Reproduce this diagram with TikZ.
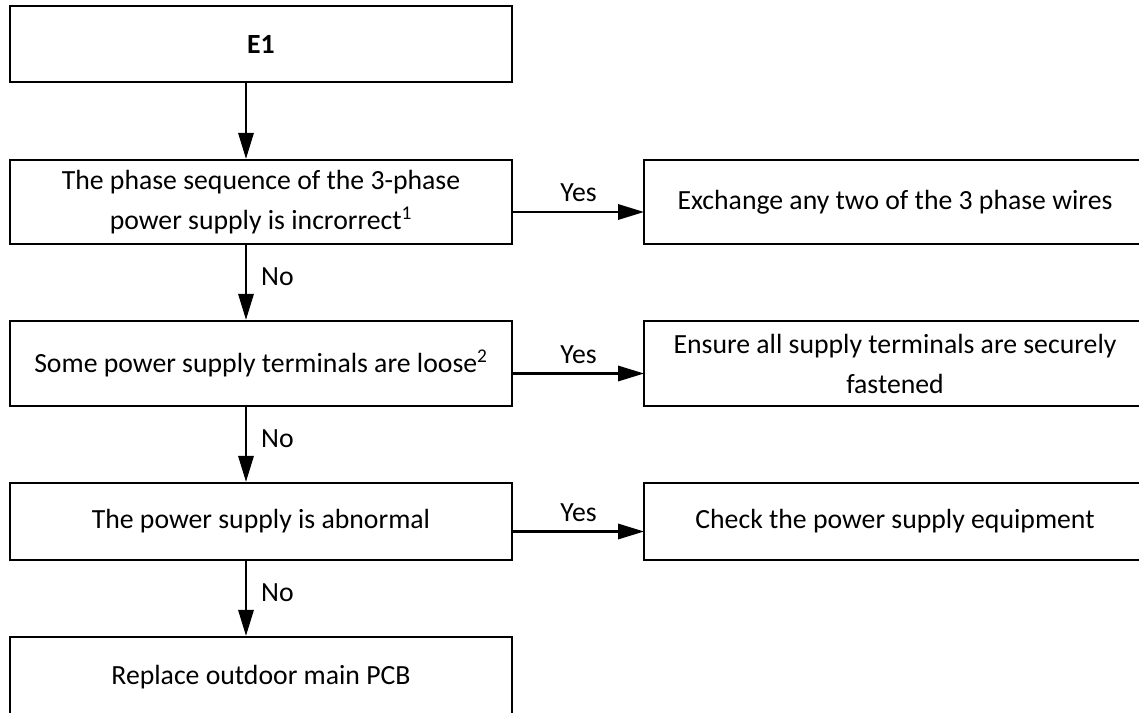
\documentclass[tikz,border=0pt]{standalone}
\usepackage{fontspec}
\setmainfont{Carlito}
\usetikzlibrary{arrows.meta}
\begin{document}
\begin{tikzpicture}[x=0.75pt,y=-0.75pt,
  txt/.style={font=\fontsize{20.8}{30}\selectfont},
  box/.style={draw, line width=1.7pt, minimum width=376.5pt, inner sep=0pt, align=center, txt},
  rbox/.style={minimum width=405pt, inner sep=0pt, anchor=west},
  open/.style={line width=1.7pt, line join=miter},
  rtext/.style={align=center, inner sep=0pt, txt},
  arr/.style={line width=1.7pt, -{Triangle[length=19.5pt,width=11.5pt]}},
  lbl/.style={txt, inner sep=0pt}]
\useasboundingbox (0,0) rectangle (1139,713);
\clip (0,0) rectangle (1139,713);
\coordinate (vx) at (246,0);
% left column
\node[box, minimum height=57pt]    (e1) at (261,44)    {\textbf{E1}};
\node[box, minimum height=63pt]    (b2) at (261,202)   {The phase sequence of the 3-phase\\power supply is incrorrect\textsuperscript{1}};
\node[box, minimum height=63.75pt] (b3) at (261,363.5) {Some power supply terminals are loose\textsuperscript{2}};
\node[box, minimum height=57.75pt] (b4) at (261,521.5) {The power supply is abnormal};
\node[box, minimum height=60pt]    (b5) at (261,677)   {Replace outdoor main PCB};
% right column (boxes run past the right edge of the picture)
\node[rbox, minimum height=63pt]    (r2) at (644,202)   {};
\node[rbox, minimum height=63.75pt] (r3) at (644,363.5) {};
\node[rbox, minimum height=57.75pt] (r4) at (644,521.5) {};
\draw[open] (r2.north east) -- (r2.north west) -- (r2.south west) -- (r2.south east);
\draw[open] (r3.north east) -- (r3.north west) -- (r3.south west) -- (r3.south east);
\draw[open] (r4.north east) -- (r4.north west) -- (r4.south west) -- (r4.south east);
\node[rtext] (r2t) at (895,202)   {Exchange any two of the 3 phase wires};
\node[rtext] (r3t) at (895,363.5) {Ensure all supply terminals are securely\\fastened};
\node[rtext] (r4t) at (895,521.5) {Check the power supply equipment};
% vertical arrows
\draw[arr] (e1.south -| vx) -- (b2.north -| vx);
\draw[arr] (b2.south -| vx) -- node[lbl, midway, anchor=base west, xshift=10.5pt, yshift=-2.25pt] {No} (b3.north -| vx);
\draw[arr] (b3.south -| vx) -- node[lbl, midway, anchor=base west, xshift=10.5pt, yshift=-2.25pt] {No} (b4.north -| vx);
\draw[arr] (b4.south -| vx) -- node[lbl, midway, anchor=base west, xshift=10.5pt, yshift=-2.25pt] {No} (b5.north -| vx);
% horizontal arrows
\draw[arr] ([yshift=-7.5pt]b2.east) -- node[lbl, midway, anchor=base, yshift=7.5pt] {Yes} ([yshift=-7.5pt]r2.west);
\draw[arr] ([yshift=-7.5pt]b3.east) -- node[lbl, midway, anchor=base, yshift=7.5pt] {Yes} ([yshift=-7.5pt]r3.west);
\draw[arr] ([yshift=-7.5pt]b4.east) -- node[lbl, midway, anchor=base, yshift=7.5pt] {Yes} ([yshift=-7.5pt]r4.west);
\end{tikzpicture}
\end{document}
